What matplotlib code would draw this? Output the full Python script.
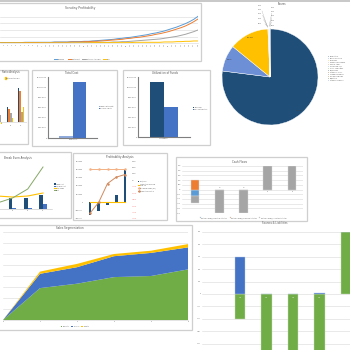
import matplotlib
matplotlib.use('Agg')
import matplotlib.pyplot as plt
from matplotlib.patches import Rectangle
import numpy as np

# ---------------- DATA ----------------
line_x = [str(i) for i in range(1, 49)]
line_blue = [2, 2, 2, 2, 2, 2, 3, 3, 3, 3, 3, 3, 3, 4, 4, 4,
             4, 5, 5, 5, 6, 6, 7, 8, 9, 10, 11, 12, 14, 15, 17, 18,
             20, 22, 24, 26, 29, 31, 34, 37, 41, 45, 49, 54, 59, 65, 72, 81]
line_orange = [1, 1, 1, 1, 1, 1, 2, 2, 2, 2, 2, 2, 2, 3, 3, 3,
               3, 4, 4, 4, 5, 5, 6, 6, 7, 8, 9, 10, 11, 12, 14, 15,
               17, 18, 20, 22, 24, 27, 29, 32, 35, 39, 43, 47, 52, 58, 65, 73]
line_gray = [0, 0, 0, 0, 0, 0, 0, 0, 0, 0, 1, 1, 1, 1, 1, 1,
             1, 1, 1, 1, 2, 2, 2, 2, 3, 3, 3, 4, 4, 5, 5, 6,
             7, 8, 9, 10, 11, 12, 13, 15, 17, 19, 21, 24, 27, 31, 35, 40]
line_yellow = [1, 1, 1, 1, 1, 1, 1, 1, 1, 1, 1, 1, 1, 1, 1, 1,
               1, 1, 1, 1, 1, 1, 2, 2, 2, 2, 2, 2, 2, 2, 2, 2,
               3, 3, 3, 3, 3, 3, 3, 4, 4, 4, 5, 5, 6, 6, 7, 7]
line_names = ['Revenue', 'Net Profit', 'Net Cash Accruals', 'EBIT']

pie_names = ['Promoters', 'Bank Finance', 'Reserves', 'Unsecured Loans', 'Share Appl.',
             'Deferred Tax', 'Curr. Liabilities', 'Provisions', 'Other LT Liab.',
             'Trade Payables', 'ST Borrowings', 'Creditors', 'Other Payables']
pie_values = [77.0, 8.9, 13.4, 0.15, 0.1, 0.1, 0.08, 0.07, 0.05, 0.05, 0.05, 0.03, 0.02]

ratio_groups = ['2', '3', '4']
ratio_blue = [3, 15, 34]
ratio_orange = [2, 13, 31]
ratio_gray = [7.5, 9, 10]
ratio_yellow = [-2, 4, 15]

tc_names = ['Fixed Capital Cost', 'Working Capital']
tc_values = [35000, 1100000]

uf_names = ['Term Loan', 'Own Contribution']
uf_values = [1100000, 600000]

be_years = ['1', '2', '3', '4']
be_fixed = [2, 11, 11, 14]
be_var = [0.5, 1, 1, 5]
be_sales = [13, 12, 13, 16]
be_profit = [6, 11, 20, 42]

pa_years = ['1', '2', '3', '4', '5']
pa_profit = [-1.57, -1.08, -0.36, 0.84, 3.86]
pa_cum = [0, 0, 0, 0, 0]
pa_bes = [4, 4, 4, 4, 4]
pa_pct = [-5.1, -3.4, -0.5, 0.5, 0.9]

cf_years = ['1', '2', '3', '4', '5']
cf_oper = [-1.4, 0, 0, 0, 0]
cf_fin = [2.1, 0, 0, 0, 0]
cf_inv = [-1.4, -5, -5, 5, 5]

ss_years = ['0', '1', '2', '3', '4', '5']
ss_green = [0, 2.9, 3.3, 3.9, 4.0, 4.6]
ss_blue = [0, 1.3, 1.5, 1.9, 2.1, 2.0]
ss_yellow = [0, 0.2, 0.3, 0.2, 0.2, 0.3]

sl_years = ['1', '2', '3', '4', '5']
sl_green = [-2, -6, -6, -6, 5]
sl_blue = [3, 0, 0, 0.1, 0.15]

# ---------------- COLOURS ----------------
DB = '#1f4e79'
MB = '#4472c4'
LB = '#6d8fd6'
SB = '#5b9bd5'
YE = '#ffc000'
OR = '#ed7d31'
GR = '#a5a5a5'
GN = '#70ad47'
TXT = '#595959'

W = H = 350
fig = plt.figure(figsize=(3.5, 3.5), dpi=100)
fig.patch.set_facecolor('white')


def box(x0, y0, x1, y1):
    return [x0 / W, 1 - y1 / H, (x1 - x0) / W, (y1 - y0) / H]


def add_ax(x0, y0, x1, y1):
    ax = fig.add_axes(box(x0, y0, x1, y1))
    ax.patch.set_alpha(0)
    return ax


def panel(x0, y0, x1, y1):
    fig.patches.append(Rectangle((x0 / W, 1 - y1 / H), (x1 - x0) / W, (y1 - y0) / H,
                                 transform=fig.transFigure, facecolor='white',
                                 edgecolor='#cfcfcf', lw=0.9, zorder=-1))


def ftext(x, y, s, size=2.2, ha='center', va='center', color=TXT, **kw):
    fig.text(x / W, 1 - y / H, s, fontsize=size, ha=ha, va=va, color=color, **kw)


def clean(ax, grid=True):
    for s in ax.spines.values():
        s.set_visible(False)
    ax.tick_params(length=0, labelsize=1.4, pad=0.8, colors=TXT)
    if grid:
        ax.yaxis.grid(True, color='#d9d9d9', lw=0.4)
        ax.set_axisbelow(True)


def inr(v):
    neg = v < 0
    v = int(round(abs(v)))
    s = str(v)
    if len(s) > 3:
        head, tail = s[:-3], s[-3:]
        parts = []
        while len(head) > 2:
            parts.insert(0, head[-2:])
            head = head[:-2]
        if head:
            parts.insert(0, head)
        s = ','.join(parts) + ',' + tail
    return ('-' if neg else '') + s


def fig_legend(ax, handles, labels, x, y, size=1.3, **kw):
    ax.legend(handles, labels, loc=kw.pop('loc', 'upper left'), bbox_to_anchor=(x / W, 1 - y / H),
              bbox_transform=fig.transFigure, fontsize=size, frameon=False,
              handlelength=kw.pop('handlelength', 1.0), handletextpad=0.4,
              borderpad=0, labelspacing=kw.pop('labelspacing', 0.5), labelcolor=TXT, **kw)


# top spreadsheet strip
fig.add_artist(plt.Line2D([0, 1], [1 - 1 / H, 1 - 1 / H], transform=fig.transFigure,
                          color='#bfbfbf', lw=1.2))

# ---------------- 1. line chart ----------------
panel(-5, 3, 201, 61)
ax = add_ax(0, 14, 198, 43.3)
clean(ax)
xi = np.arange(len(line_x))
h = []
for vals, c, nm in zip([line_blue, line_orange, line_gray, line_yellow],
                       [SB, OR, GR, YE], line_names):
    h += ax.plot(xi, vals, color=c, lw=0.7, label=nm)
ax.set_xlim(0, len(xi) - 1)
ax.set_ylim(0, 88)
ax.set_yticks([0, 20, 40, 60, 80])
ax.set_yticklabels([])
ax.set_xticks(xi)
ax.set_xticklabels(line_x, fontsize=1.0, rotation=90)
ax.spines['bottom'].set_visible(True)
ax.spines['bottom'].set_color('#d9d9d9')
ax.spines['bottom'].set_linewidth(0.4)
ftext(80, 8, 'Scrutiny Profitability')
fig_legend(ax, h, line_names, 82, 59, size=1.2, loc='center', ncol=4, handlelength=2.0,
           columnspacing=1.5)

# ---------------- 2. pie ----------------
ax = add_ax(222, 29, 318, 125)
pie_colors = [DB, LB, YE, GR, OR, SB, GN, '#264478', '#9e480e', '#636363', '#997300',
              '#43682b', '#698ed0']
tot = sum(pie_values)
wedges, _, autot = ax.pie(pie_values, colors=pie_colors, startangle=90, counterclock=False,
                          autopct=lambda p: f'{p:.1f}%' if p > 2 else '', pctdistance=0.92,
                          wedgeprops=dict(linewidth=0.3, edgecolor='white'),
                          textprops=dict(fontsize=1.6, color='#404040'))
ax.set_xlim(-1, 1)
ax.set_ylim(-1, 1)
ax.set_aspect('auto')
k = 0
for v, w in zip(pie_values, wedges):
    if v / tot * 100 <= 2:
        ang = np.deg2rad((w.theta1 + w.theta2) / 2)
        col = k % 2
        row = k // 2
        tx = (260 if col == 0 else 273) / W
        ty = 1 - (5 + row * 4.5 + col * 2.0) / H
        ax.annotate(f'{v / tot * 100:.1f}%', xy=(np.cos(ang), np.sin(ang)), xytext=(tx, ty),
                    textcoords='figure fraction', fontsize=1.2, color=TXT, ha='center',
                    va='center', arrowprops=dict(arrowstyle='-', lw=0.2, color='#a0a0a0'))
        k += 1
ftext(282, 4, 'Shares', size=1.8)
fig_legend(ax, wedges, pie_names, 327, 55, size=1.25, handlelength=0.7, labelspacing=0.45)

# ---------------- 3. ratio analysis (grouped bars) ----------------
panel(-10, 70, 28, 144)
ax = add_ax(-12, 76, 27, 124)
clean(ax, grid=False)
g = np.arange(1, len(ratio_groups) + 1)
bw = 0.14
for j, (vals, c) in enumerate(zip([ratio_blue, ratio_orange, ratio_gray, ratio_yellow],
                                  [DB, OR, GR, YE])):
    ax.bar(g + (j - 1.5) * bw, vals, width=bw, color=c)
ax.set_xlim(0, 3.545)
ax.set_ylim(-2, 46)
ax.set_xticks(g[1:])
ax.set_xticklabels(ratio_groups[1:])
ax.set_yticks([])
ax.axhline(0, color='#d0d0d0', lw=0.4)
ftext(1.5, 72.5, 'Ratio Analysis', size=1.8, ha='left')
fig.patches.append(Rectangle((4.5 / W, 1 - 78.7 / H), 1.3 / W, 1.3 / H,
                             transform=fig.transFigure, color=YE))
ftext(6.5, 78, 'Net Profit Margin', size=1.2, ha='left')

# ---------------- 4. total cost ----------------
panel(32, 70, 117, 146)
ax = add_ax(48, 77, 97, 138)
clean(ax, grid=False)
tc_pos = [-0.285, 0.285]
bars = [ax.bar(p, v, width=0.57, color=c) for p, v, c in zip(tc_pos, tc_values, ['#8ea9db', MB])]
ax.set_xlim(-1, 1)
ax.set_ylim(0, 1200000)
yt = np.arange(0, 1200001, 200000)
ax.set_yticks(yt)
ax.set_yticklabels([inr(v) for v in yt])
ax.set_xticks([0])
ax.set_xticklabels(['Total Cost'])
for s in ['left', 'bottom']:
    ax.spines[s].set_visible(True)
    ax.spines[s].set_color('#7f7f7f')
    ax.spines[s].set_linewidth(0.8)
ftext(72, 73.5, 'Total Cost', size=2.0)
fig_legend(ax, bars, tc_names, 98, 105, size=1.1, handlelength=0.7, labelspacing=0.8)

# ---------------- 5. utilization of funds ----------------
panel(123, 70, 210, 145)
ax = add_ax(138, 77, 190, 137)
clean(ax, grid=False)
uf_pos = [-0.27, 0.27]
bars = [ax.bar(p, v, width=0.54, color=c) for p, v, c in zip(uf_pos, uf_values, [DB, MB])]
ax.set_xlim(-1, 1)
ax.set_ylim(0, 1200000)
ax.set_yticks(yt)
ax.set_yticklabels([inr(v) for v in yt])
ax.set_xticks([0])
ax.set_xticklabels(['Utilization'])
for s in ['left', 'bottom']:
    ax.spines[s].set_visible(True)
    ax.spines[s].set_color('#7f7f7f')
    ax.spines[s].set_linewidth(0.8)
ftext(165, 73.5, 'Utilization of Funds', size=2.0)
fig_legend(ax, bars, uf_names, 192, 106, size=1.1, handlelength=0.7, labelspacing=0.6)

# ---------------- 6. break even ----------------
panel(-10, 152, 71, 218)
ax = add_ax(-10, 162, 52, 209)
clean(ax, grid=False)
bx = np.arange(len(be_years))
b1 = ax.bar(bx - 0.13, be_fixed, width=0.26, color=DB)
b2 = ax.bar(bx + 0.13, be_var, width=0.26, color=MB)
l1, = ax.plot(bx, be_sales, color=YE, lw=0.8)
l2, = ax.plot(bx, be_profit, color='#86a866', lw=0.7)
ax.set_xlim(-0.475, 3.59)
ax.set_ylim(0, 47)
ax.set_xticks(bx[1:])
ax.set_xticklabels(be_years[1:])
ax.set_yticks([])
ax.spines['bottom'].set_visible(True)
ax.spines['bottom'].set_color('#bfbfbf')
ax.spines['bottom'].set_linewidth(0.4)
ftext(18, 158, 'Break Even Analysis', size=2.0)
fig_legend(ax, [b1, b2, l1, l2], ['Fixed Cost', 'Variable Cost', 'Total Sales', 'Profit'],
           53, 182.5, size=1.1, handlelength=1.2, labelspacing=0.6)

# ---------------- 7. profitability ----------------
panel(73, 153, 167, 220)
ax = add_ax(84, 161, 131, 219)
clean(ax, grid=False)
px = np.arange(len(pa_years))
b1 = ax.bar(px, pa_profit, width=0.34, color=DB)
l1, = ax.plot(px, pa_cum, color=YE, lw=0.8)
l2, = ax.plot(px, pa_bes, color='#f4b183', lw=0.7, marker='o', ms=0.8)
ax.set_xlim(-0.686, 4.686)
ax.set_ylim(-2, 5)
lt = np.arange(-2, 6)
ax.set_yticks(lt)
ax.set_yticklabels([inr(v * 100000) for v in lt], fontsize=1.2)
ax.set_xticks([])
ax2 = ax.twinx()
ax2.set_position(ax.get_position())
ax2.patch.set_alpha(0)
for s in ax2.spines.values():
    s.set_visible(False)
l3, = ax2.plot(px, pa_pct, color='#d08a5e', lw=0.7, marker='o', ms=0.8)
ax2.set_ylim(-6, 3)
rt = np.arange(-6, 4)
ax2.set_yticks(rt)
ax2.set_yticklabels([f'{v * 100}%' for v in rt], fontsize=1.2)
ax2.tick_params(length=0, pad=0.8)
for lab, v in zip(ax2.get_yticklabels(), rt):
    lab.set_color('#f06060' if v < 0 else TXT)
ftext(120, 157, 'Profitability Analysis', size=2.0)
fig_legend(ax, [b1, l1, l2, l3], ['Profit/Loss', 'Cumulative cash flow\nafter tax',
                                  'Breakeven Sales (Rs.)', 'Cumulative profit %'],
           137, 180, size=1.0, handlelength=1.2, labelspacing=0.9)

# ---------------- 8. cash flows ----------------
panel(176, 157, 307, 221)
ax = add_ax(182, 166, 303, 213)
clean(ax)
cx = np.arange(len(cf_years))
inv_bottom = [o if (o < 0 and v < 0) else 0 for o, v in zip(cf_oper, cf_inv)]
b1 = ax.bar(cx, cf_oper, width=0.36, color=SB, edgecolor='#d9d9d9', lw=0.3)
b2 = ax.bar(cx, cf_fin, width=0.36, color=OR, edgecolor='#d9d9d9', lw=0.3)
b3 = ax.bar(cx, cf_inv, bottom=inv_bottom, width=0.36, color=GR, edgecolor='#d9d9d9', lw=0.3)
ax.set_xlim(-0.536, 4.45)
ax.set_ylim(-5, 5)
ct = np.arange(-5, 6)
ax.set_yticks(ct)
ax.set_yticklabels([f'{v * 10}%' for v in ct], fontsize=1.1)
ax.set_xticks([])
for i, v in enumerate(cf_inv):
    if i > 0:
        ax.text(i, 0.3 if v < 0 else -0.6, f'{v:.0f}', fontsize=0.9, color='#404040', ha='center')
ftext(240, 162, 'Cash Flows', size=2.0)
fig_legend(ax, [b1, b2, b3], ['Net Cash Flow(s) Operating Activities',
                              'Net Cash Flow(s) Financing Activities',
                              'Net Cash Flow(s) Investing Activities'],
           243, 218, size=0.95, loc='center', ncol=3, handlelength=0.7, columnspacing=1.5)

# ---------------- 9. sales segmentation ----------------
panel(-10, 225, 192, 330)
ax = add_ax(3, 232, 188, 320)
clean(ax)
sx = np.arange(len(ss_years))
polys = ax.stackplot(sx, ss_green, ss_blue, ss_yellow, colors=[GN, MB, YE], lw=0)
ax.set_xlim(0, len(sx) - 1)
ax.set_ylim(0, 8)
ax.set_yticks(np.arange(0, 9))
ax.set_yticklabels([])
ax.set_xticks(sx)
ax.set_xticklabels(ss_years, fontsize=1.2)
ax.spines['bottom'].set_visible(True)
ax.spines['bottom'].set_color('#d0d0d0')
ax.spines['bottom'].set_linewidth(0.4)
ftext(70, 228.5, 'Sales Segmentation', size=2.0)
fig_legend(ax, polys, ['Domestic', 'Services', 'Exports'], 75, 326, size=1.1, loc='center',
           ncol=3, handlelength=1.2, columnspacing=0.8)

# ---------------- 10. sources & liabilities ----------------
ax = add_ax(202, 232, 360, 356)
clean(ax)
lx = np.arange(len(sl_years))
blue_bottom = [gv if gv > 0 else 0 for gv in sl_green]
ax.bar(lx, sl_green, width=0.38, color=GN, edgecolor='#c9dcbb', lw=0.3)
ax.bar(lx, sl_blue, bottom=blue_bottom, width=0.38, color=MB, edgecolor='#b4c7e7', lw=0.3)
ax.set_xlim(-1.434, 4.528)
ax.set_ylim(-5, 5)
st = np.arange(-4, 6)
ax.set_yticks(st)
ax.set_yticklabels([f'{v * 100}' for v in st], fontsize=1.2)
ax.set_xticks([])
for i, v in enumerate(sl_green):
    if v < 0:
        ax.text(i, -0.35, f'{v * 100:.0f}', fontsize=0.8, color='white', ha='center')
ftext(275, 223, 'Sources & Liabilities', size=1.8)

fig.savefig('out.png', dpi=100, facecolor='white')
